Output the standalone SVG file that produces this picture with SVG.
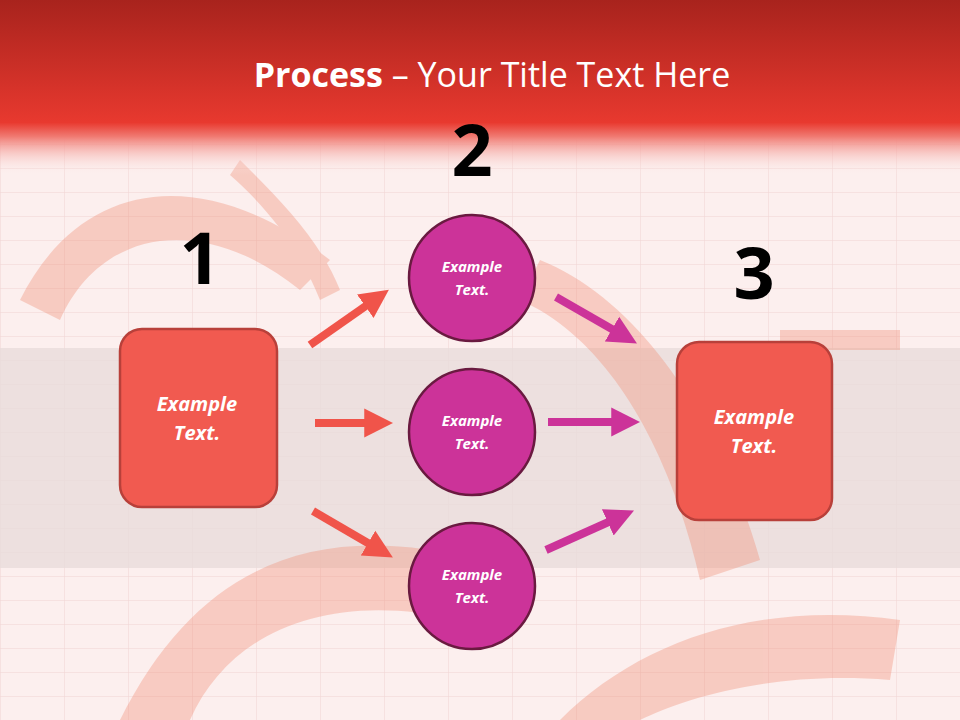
<svg xmlns="http://www.w3.org/2000/svg" width="960" height="720" viewBox="0 0 960 720">
<defs>
<linearGradient id="hdr" x1="0" y1="0" x2="0" y2="1">
<stop offset="0" stop-color="#a8231d"/><stop offset="0.7" stop-color="#e8392f"/><stop offset="0.78" stop-color="#f07a72"/><stop offset="1" stop-color="#fdf0ef" stop-opacity="0"/>
</linearGradient>
<pattern id="grid" width="64" height="24" patternUnits="userSpaceOnUse">
<path d="M0 0H64M0 0V24" stroke="#f0d4d2" stroke-width="1" fill="none"/>
</pattern>
<marker id="ar" viewBox="0 0 10 10" refX="2" refY="5" markerWidth="3.6" markerHeight="4" orient="auto" markerUnits="strokeWidth"><path d="M0 0L10 5L0 10Z" fill="#f0544a"/></marker>
<marker id="am" viewBox="0 0 10 10" refX="2" refY="5" markerWidth="3.6" markerHeight="4" orient="auto" markerUnits="strokeWidth"><path d="M0 0L10 5L0 10Z" fill="#cc3399"/></marker>
<style>
.box{fill:#f15a50;stroke:#b8403a;stroke-width:2.5}
.cir{fill:#cc3399;stroke:#6a1a40;stroke-width:2.5}
.t{font-family:"Open Sans","Liberation Sans",sans-serif;font-weight:bold;font-style:italic;fill:#fff;text-anchor:middle}
.n{font-family:"Open Sans","Liberation Sans",sans-serif;font-weight:bold;fill:#000;text-anchor:middle;font-size:72px}
.ra{stroke:#f0544a;stroke-width:8;marker-end:url(#ar)}
.ma{stroke:#cc3399;stroke-width:8;marker-end:url(#am)}
</style>
</defs>
<rect width="960" height="720" fill="#fcefee"/>
<rect width="960" height="720" fill="url(#grid)"/>
<rect y="348" width="960" height="220" fill="#e8dcdb" opacity="0.8"/>
<g opacity="0.35" fill="#f08a70">
<path d="M20 300C80 180 200 160 330 260L300 290C200 210 100 230 60 320Z"/>
<path d="M240 160C280 200 320 240 340 290L320 300C300 250 270 210 230 175Z"/>
<path d="M120 720C200 560 320 520 480 560L460 620C330 590 230 630 190 720Z"/>
<path d="M540 260C640 300 720 420 760 560L700 580C670 450 610 340 520 300Z"/>
<path d="M560 720C640 640 760 600 900 620L890 680C770 670 680 700 640 720Z"/>
<path d="M780 330H900V350H780Z"/>
</g>
<rect width="960" height="175" fill="url(#hdr)"/>
<text x="492" y="87" text-anchor="middle" font-family="Open Sans,Liberation Sans,sans-serif" font-size="34" fill="#fff"><tspan font-weight="bold">Process</tspan> – Your Title Text Here</text>
<g id="connectors">
<line class="ra" x1="310" y1="345" x2="370" y2="303"/>
<line class="ra" x1="315" y1="423" x2="370" y2="423"/>
<line class="ra" x1="313" y1="511" x2="373" y2="546"/>
<line class="ma" x1="556" y1="297" x2="617" y2="332"/>
<line class="ma" x1="548" y1="422" x2="617" y2="422"/>
<line class="ma" x1="546" y1="550" x2="613" y2="520"/>
</g>
<g id="n1"><text class="n" x="200" y="284">1</text></g>
<g id="n2"><text class="n" x="472" y="176">2</text></g>
<g id="n3"><text class="n" x="754" y="299">3</text></g>
<g id="left"><rect class="box" x="120" y="329" width="157" height="178" rx="22"/><text class="t" x="197" y="411" font-size="20">Example</text><text class="t" x="197" y="440" font-size="20">Text.</text></g>
<g id="right"><rect class="box" x="677" y="342" width="155" height="178" rx="22"/><text class="t" x="754" y="424" font-size="20">Example</text><text class="t" x="754" y="453" font-size="20">Text.</text></g>
<g id="c1"><circle class="cir" cx="472" cy="278" r="63"/><text class="t" x="472" y="272" font-size="15">Example</text><text class="t" x="472" y="295" font-size="15">Text.</text></g>
<g id="c2"><circle class="cir" cx="472" cy="432" r="63"/><text class="t" x="472" y="426" font-size="15">Example</text><text class="t" x="472" y="449" font-size="15">Text.</text></g>
<g id="c3"><circle class="cir" cx="472" cy="586" r="63"/><text class="t" x="472" y="580" font-size="15">Example</text><text class="t" x="472" y="603" font-size="15">Text.</text></g>
</svg>
